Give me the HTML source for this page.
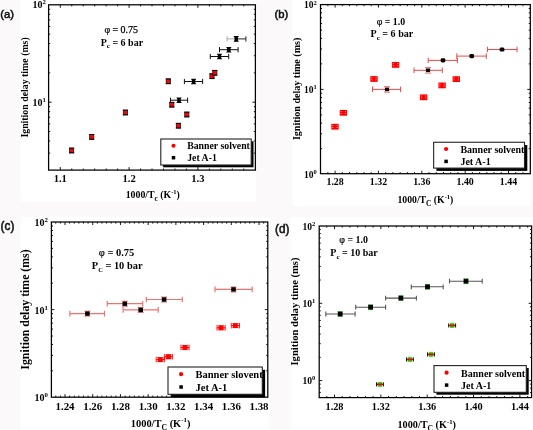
<!DOCTYPE html>
<html><head><meta charset="utf-8"><style>
html,body{margin:0;padding:0;background:#fbf9fa;width:533px;height:430px;overflow:hidden}
svg{display:block;will-change:transform}
</style></head><body>
<svg width="533" height="430" viewBox="0 0 533 430" font-family="'Liberation Serif', serif" fill="#000">
<rect width="533" height="430" fill="#fbf9fa"/>
<rect x="20.3" y="0" width="235.7" height="201.5" fill="#fff"/>
<rect x="292.5" y="0" width="238.7" height="206" fill="#fff"/>
<rect x="20.6" y="216.8" width="249" height="213.2" fill="#fff"/>
<rect x="290.4" y="216.8" width="242.6" height="213.2" fill="#fff"/>
<path d="M48.6 153.13h1.6M255.4 153.13h-1.6M48.6 140.96h1.6M255.4 140.96h-1.6M48.6 131.52h1.6M255.4 131.52h-1.6M48.6 123.81h1.6M255.4 123.81h-1.6M48.6 117.29h1.6M255.4 117.29h-1.6M48.6 111.64h1.6M255.4 111.64h-1.6M48.6 106.66h1.6M255.4 106.66h-1.6M48.6 102.2h3M255.4 102.2h-3M48.6 72.88h1.6M255.4 72.88h-1.6M48.6 55.73h1.6M255.4 55.73h-1.6M48.6 43.56h1.6M255.4 43.56h-1.6M48.6 34.12h1.6M255.4 34.12h-1.6M48.6 26.41h1.6M255.4 26.41h-1.6M48.6 19.89h1.6M255.4 19.89h-1.6M48.6 14.24h1.6M255.4 14.24h-1.6M48.6 9.26h1.6M255.4 9.26h-1.6M60.3 170.1v-3M60.3 4.8v3M71.77 170.1v-1.6M71.77 4.8v1.6M83.23 170.1v-1.6M83.23 4.8v1.6M94.7 170.1v-1.6M94.7 4.8v1.6M106.17 170.1v-1.6M106.17 4.8v1.6M117.63 170.1v-1.6M117.63 4.8v1.6M129.1 170.1v-3M129.1 4.8v3M140.57 170.1v-1.6M140.57 4.8v1.6M152.03 170.1v-1.6M152.03 4.8v1.6M163.5 170.1v-1.6M163.5 4.8v1.6M174.97 170.1v-1.6M174.97 4.8v1.6M186.43 170.1v-1.6M186.43 4.8v1.6M197.9 170.1v-3M197.9 4.8v3M209.37 170.1v-1.6M209.37 4.8v1.6M220.83 170.1v-1.6M220.83 4.8v1.6M232.3 170.1v-1.6M232.3 4.8v1.6M243.77 170.1v-1.6M243.77 4.8v1.6" stroke="#000" stroke-width="0.9" fill="none"/>
<rect x="48.6" y="4.8" width="206.8" height="165.3" fill="none" stroke="#000" stroke-width="1.25"/>
<text x="60.3" y="181.9" text-anchor="middle" font-size="10.6" font-weight="bold">1.1</text>
<text x="129.1" y="181.9" text-anchor="middle" font-size="10.6" font-weight="bold">1.2</text>
<text x="197.9" y="181.9" text-anchor="middle" font-size="10.6" font-weight="bold">1.3</text>
<text x="32.4" y="8.3" font-size="10.0" font-weight="bold">10<tspan font-size="6.8" dy="-4">2</tspan></text>
<text x="32.4" y="105.7" font-size="10.0" font-weight="bold">10<tspan font-size="6.8" dy="-4">1</tspan></text>
<text transform="translate(27.7 87.45) rotate(-90)" text-anchor="middle" font-size="9.85" font-weight="bold">Ignition delay time (ms)</text>
<text x="125.7" y="198.3" font-size="9.8" font-weight="bold">1000/T<tspan font-size="7.35" dy="2.74">c</tspan><tspan dy="-2.74"> (K</tspan><tspan font-size="6.47" dy="-4.12">-1</tspan><tspan dy="4.12">)</tspan></text>
<text x="104.4" y="33" font-size="9.9" font-weight="normal" stroke="#000" stroke-width="0.25"><tspan font-weight="normal" stroke="#000" stroke-width="0.2">φ</tspan> = 0.75</text>
<text x="100.7" y="45.6" font-size="10.0" font-weight="bold">P<tspan font-size="7" dy="2.6">c</tspan><tspan dy="-2.6"> = 6 bar</tspan></text>
<rect x="163.1" y="141.3" width="90.4" height="26" fill="#000"/>
<rect x="160.8" y="139" width="90.4" height="26" fill="#fff" stroke="#222" stroke-width="1.1"/>
<circle cx="173.5" cy="145.75" r="2.1" fill="#f00"/>
<rect x="171.75" y="155.95" width="3.5" height="3.5" fill="#000"/>
<text x="187.2" y="149.1" font-size="9.8" font-weight="bold">Banner solvent</text>
<text x="187.2" y="161.2" font-size="9.8" font-weight="bold">Jet A-1</text>
<text transform="translate(0.3 17.6) scale(0.98 1)" font-family="'Liberation Sans', sans-serif" font-size="11.5" fill="#111" stroke="#111" stroke-width="0.55">(a)</text>
<path d="M320.5 148.67h1.6M530.3 148.67h-1.6M320.5 133.74h1.6M530.3 133.74h-1.6M320.5 123.15h1.6M530.3 123.15h-1.6M320.5 114.93h1.6M530.3 114.93h-1.6M320.5 108.21h1.6M530.3 108.21h-1.6M320.5 102.54h1.6M530.3 102.54h-1.6M320.5 97.62h1.6M530.3 97.62h-1.6M320.5 93.28h1.6M530.3 93.28h-1.6M320.5 89.4h3M530.3 89.4h-3M320.5 63.87h1.6M530.3 63.87h-1.6M320.5 48.94h1.6M530.3 48.94h-1.6M320.5 38.35h1.6M530.3 38.35h-1.6M320.5 30.13h1.6M530.3 30.13h-1.6M320.5 23.41h1.6M530.3 23.41h-1.6M320.5 17.74h1.6M530.3 17.74h-1.6M320.5 12.82h1.6M530.3 12.82h-1.6M320.5 8.48h1.6M530.3 8.48h-1.6M327.88 173.7v-1.6M327.88 4.6v1.6M335.1 173.7v-3M335.1 4.6v3M342.32 173.7v-1.6M342.32 4.6v1.6M349.55 173.7v-1.6M349.55 4.6v1.6M356.78 173.7v-1.6M356.78 4.6v1.6M364 173.7v-1.6M364 4.6v1.6M371.23 173.7v-1.6M371.23 4.6v1.6M378.45 173.7v-3M378.45 4.6v3M385.68 173.7v-1.6M385.68 4.6v1.6M392.9 173.7v-1.6M392.9 4.6v1.6M400.13 173.7v-1.6M400.13 4.6v1.6M407.35 173.7v-1.6M407.35 4.6v1.6M414.57 173.7v-1.6M414.57 4.6v1.6M421.8 173.7v-3M421.8 4.6v3M429.03 173.7v-1.6M429.03 4.6v1.6M436.25 173.7v-1.6M436.25 4.6v1.6M443.48 173.7v-1.6M443.48 4.6v1.6M450.7 173.7v-1.6M450.7 4.6v1.6M457.92 173.7v-1.6M457.92 4.6v1.6M465.15 173.7v-3M465.15 4.6v3M472.38 173.7v-1.6M472.38 4.6v1.6M479.6 173.7v-1.6M479.6 4.6v1.6M486.82 173.7v-1.6M486.82 4.6v1.6M494.05 173.7v-1.6M494.05 4.6v1.6M501.27 173.7v-1.6M501.27 4.6v1.6M508.5 173.7v-3M508.5 4.6v3M515.73 173.7v-1.6M515.73 4.6v1.6M522.95 173.7v-1.6M522.95 4.6v1.6" stroke="#000" stroke-width="0.9" fill="none"/>
<rect x="320.5" y="4.6" width="209.8" height="169.1" fill="none" stroke="#000" stroke-width="1.25"/>
<text x="335.1" y="185.3" text-anchor="middle" font-size="9.9" font-weight="bold">1.28</text>
<text x="378.45" y="185.3" text-anchor="middle" font-size="9.9" font-weight="bold">1.32</text>
<text x="421.8" y="185.3" text-anchor="middle" font-size="9.9" font-weight="bold">1.36</text>
<text x="465.15" y="185.3" text-anchor="middle" font-size="9.9" font-weight="bold">1.40</text>
<text x="508.5" y="185.3" text-anchor="middle" font-size="9.9" font-weight="bold">1.44</text>
<text x="303.9" y="8.4" font-size="9.5" font-weight="bold">10<tspan font-size="6.46" dy="-3.8">2</tspan></text>
<text x="303.9" y="93.2" font-size="9.5" font-weight="bold">10<tspan font-size="6.46" dy="-3.8">1</tspan></text>
<text x="303.9" y="178" font-size="9.5" font-weight="bold">10<tspan font-size="6.46" dy="-3.8">0</tspan></text>
<text transform="translate(299.6 88.9) rotate(-90)" text-anchor="middle" font-size="10.05" font-weight="bold">Ignition delay time (ms)</text>
<text x="397.4" y="203.1" font-size="9.75" font-weight="bold">1000/T<tspan font-size="7.31" dy="2.73">C</tspan><tspan dy="-2.73"> (K</tspan><tspan font-size="6.44" dy="-4.09">-1</tspan><tspan dy="4.09">)</tspan></text>
<text x="376.7" y="24.7" font-size="9.8" font-weight="bold"><tspan font-weight="normal" stroke="#000" stroke-width="0.2">φ</tspan> = 1.0</text>
<text x="370.5" y="37.1" font-size="10.1" font-weight="bold">P<tspan font-size="7.07" dy="2.63">c</tspan><tspan dy="-2.63"> = 6 bar</tspan></text>
<rect x="436.45" y="145.05" width="90.85" height="25.85" fill="#000"/>
<rect x="433.65" y="142.25" width="90.85" height="25.85" fill="#fff" stroke="#222" stroke-width="1.1"/>
<circle cx="446.1" cy="149" r="2.1" fill="#f00"/>
<rect x="444.35" y="159.65" width="3.5" height="3.5" fill="#000"/>
<text x="460.4" y="152.8" font-size="10.0" font-weight="bold">Banner solvent</text>
<text x="460.4" y="164.6" font-size="10.0" font-weight="bold">Jet A-1</text>
<text transform="translate(274.6 17.7) scale(0.98 1)" font-family="'Liberation Sans', sans-serif" font-size="11.5" fill="#111" stroke="#111" stroke-width="0.55">(b)</text>
<path d="M51.4 370.83h1.6M267.8 370.83h-1.6M51.4 355.4h1.6M267.8 355.4h-1.6M51.4 344.46h1.6M267.8 344.46h-1.6M51.4 335.97h1.6M267.8 335.97h-1.6M51.4 329.03h1.6M267.8 329.03h-1.6M51.4 323.17h1.6M267.8 323.17h-1.6M51.4 318.09h1.6M267.8 318.09h-1.6M51.4 313.61h1.6M267.8 313.61h-1.6M51.4 309.6h3M267.8 309.6h-3M51.4 283.23h1.6M267.8 283.23h-1.6M51.4 267.8h1.6M267.8 267.8h-1.6M51.4 256.86h1.6M267.8 256.86h-1.6M51.4 248.37h1.6M267.8 248.37h-1.6M51.4 241.43h1.6M267.8 241.43h-1.6M51.4 235.57h1.6M267.8 235.57h-1.6M51.4 230.49h1.6M267.8 230.49h-1.6M51.4 226.01h1.6M267.8 226.01h-1.6M55.76 397.2v-1.6M55.76 222v1.6M60.38 397.2v-1.6M60.38 222v1.6M65 397.2v-3M65 222v3M69.62 397.2v-1.6M69.62 222v1.6M74.24 397.2v-1.6M74.24 222v1.6M78.86 397.2v-1.6M78.86 222v1.6M83.48 397.2v-1.6M83.48 222v1.6M88.1 397.2v-1.6M88.1 222v1.6M92.72 397.2v-3M92.72 222v3M97.34 397.2v-1.6M97.34 222v1.6M101.96 397.2v-1.6M101.96 222v1.6M106.58 397.2v-1.6M106.58 222v1.6M111.2 397.2v-1.6M111.2 222v1.6M115.82 397.2v-1.6M115.82 222v1.6M120.44 397.2v-3M120.44 222v3M125.06 397.2v-1.6M125.06 222v1.6M129.68 397.2v-1.6M129.68 222v1.6M134.3 397.2v-1.6M134.3 222v1.6M138.92 397.2v-1.6M138.92 222v1.6M143.54 397.2v-1.6M143.54 222v1.6M148.16 397.2v-3M148.16 222v3M152.78 397.2v-1.6M152.78 222v1.6M157.4 397.2v-1.6M157.4 222v1.6M162.02 397.2v-1.6M162.02 222v1.6M166.64 397.2v-1.6M166.64 222v1.6M171.26 397.2v-1.6M171.26 222v1.6M175.88 397.2v-3M175.88 222v3M180.5 397.2v-1.6M180.5 222v1.6M185.12 397.2v-1.6M185.12 222v1.6M189.74 397.2v-1.6M189.74 222v1.6M194.36 397.2v-1.6M194.36 222v1.6M198.98 397.2v-1.6M198.98 222v1.6M203.6 397.2v-3M203.6 222v3M208.22 397.2v-1.6M208.22 222v1.6M212.84 397.2v-1.6M212.84 222v1.6M217.46 397.2v-1.6M217.46 222v1.6M222.08 397.2v-1.6M222.08 222v1.6M226.7 397.2v-1.6M226.7 222v1.6M231.32 397.2v-3M231.32 222v3M235.94 397.2v-1.6M235.94 222v1.6M240.56 397.2v-1.6M240.56 222v1.6M245.18 397.2v-1.6M245.18 222v1.6M249.8 397.2v-1.6M249.8 222v1.6M254.42 397.2v-1.6M254.42 222v1.6M259.04 397.2v-3M259.04 222v3M263.66 397.2v-1.6M263.66 222v1.6" stroke="#000" stroke-width="0.9" fill="none"/>
<rect x="51.4" y="222" width="216.4" height="175.2" fill="none" stroke="#000" stroke-width="1.25"/>
<text x="65" y="409.8" text-anchor="middle" font-size="10.9" font-weight="bold">1.24</text>
<text x="92.72" y="409.8" text-anchor="middle" font-size="10.9" font-weight="bold">1.26</text>
<text x="120.44" y="409.8" text-anchor="middle" font-size="10.9" font-weight="bold">1.28</text>
<text x="148.16" y="409.8" text-anchor="middle" font-size="10.9" font-weight="bold">1.30</text>
<text x="175.88" y="409.8" text-anchor="middle" font-size="10.9" font-weight="bold">1.32</text>
<text x="203.6" y="409.8" text-anchor="middle" font-size="10.9" font-weight="bold">1.34</text>
<text x="231.32" y="409.8" text-anchor="middle" font-size="10.9" font-weight="bold">1.36</text>
<text x="259.04" y="409.8" text-anchor="middle" font-size="10.9" font-weight="bold">1.38</text>
<text x="34.6" y="225.9" font-size="10.0" font-weight="bold">10<tspan font-size="6.8" dy="-4">2</tspan></text>
<text x="34.6" y="313.5" font-size="10.0" font-weight="bold">10<tspan font-size="6.8" dy="-4">1</tspan></text>
<text x="34.6" y="401.1" font-size="10.0" font-weight="bold">10<tspan font-size="6.8" dy="-4">0</tspan></text>
<text transform="translate(29.4 309.5) rotate(-90)" text-anchor="middle" font-size="11.8" font-weight="bold">Ignition delay time (ms)</text>
<text x="130.8" y="426.7" font-size="10.4" font-weight="bold">1000/T<tspan font-size="7.8" dy="2.91">C</tspan><tspan dy="-2.91"> (K</tspan><tspan font-size="6.86" dy="-4.37">-1</tspan><tspan dy="4.37">)</tspan></text>
<text x="98.7" y="256.4" font-size="10.5" font-weight="bold"><tspan font-weight="normal" stroke="#000" stroke-width="0.2">φ</tspan> = 0.75</text>
<text x="91.8" y="269" font-size="10.4" font-weight="bold">P<tspan font-size="6.45" dy="3.33">C</tspan><tspan dy="-3.33"> = 10 bar</tspan></text>
<rect x="170.8" y="369.8" width="94.3" height="27.3" fill="#000"/>
<rect x="168" y="367" width="94.3" height="27.3" fill="#fff" stroke="#222" stroke-width="1.1"/>
<circle cx="181.1" cy="374.15" r="2.1" fill="#f00"/>
<rect x="179.35" y="385.25" width="3.5" height="3.5" fill="#000"/>
<text x="195.5" y="377.8" font-size="10.5" font-weight="bold">Banner slovent</text>
<text x="195.5" y="390.7" font-size="10.5" font-weight="bold">Jet A-1</text>
<text transform="translate(0.6 229.9) scale(0.98 1)" font-family="'Liberation Sans', sans-serif" font-size="12.0" fill="#111" stroke="#111" stroke-width="0.55">(c)</text>
<path d="M319.2 392.57h1.6M531.6 392.57h-1.6M319.2 388.09h1.6M531.6 388.09h-1.6M319.2 384.14h1.6M531.6 384.14h-1.6M319.2 380.6h3M531.6 380.6h-3M319.2 357.33h1.6M531.6 357.33h-1.6M319.2 343.72h1.6M531.6 343.72h-1.6M319.2 334.06h1.6M531.6 334.06h-1.6M319.2 326.57h1.6M531.6 326.57h-1.6M319.2 320.45h1.6M531.6 320.45h-1.6M319.2 315.27h1.6M531.6 315.27h-1.6M319.2 310.79h1.6M531.6 310.79h-1.6M319.2 306.84h1.6M531.6 306.84h-1.6M319.2 303.3h3M531.6 303.3h-3M319.2 280.03h1.6M531.6 280.03h-1.6M319.2 266.42h1.6M531.6 266.42h-1.6M319.2 256.76h1.6M531.6 256.76h-1.6M319.2 249.27h1.6M531.6 249.27h-1.6M319.2 243.15h1.6M531.6 243.15h-1.6M319.2 237.97h1.6M531.6 237.97h-1.6M319.2 233.49h1.6M531.6 233.49h-1.6M319.2 229.54h1.6M531.6 229.54h-1.6M326.78 397.6v-1.6M326.78 226v1.6M334.5 397.6v-3M334.5 226v3M342.22 397.6v-1.6M342.22 226v1.6M349.95 397.6v-1.6M349.95 226v1.6M357.68 397.6v-1.6M357.68 226v1.6M365.4 397.6v-1.6M365.4 226v1.6M373.13 397.6v-1.6M373.13 226v1.6M380.85 397.6v-3M380.85 226v3M388.57 397.6v-1.6M388.57 226v1.6M396.3 397.6v-1.6M396.3 226v1.6M404.03 397.6v-1.6M404.03 226v1.6M411.75 397.6v-1.6M411.75 226v1.6M419.47 397.6v-1.6M419.47 226v1.6M427.2 397.6v-3M427.2 226v3M434.93 397.6v-1.6M434.93 226v1.6M442.65 397.6v-1.6M442.65 226v1.6M450.38 397.6v-1.6M450.38 226v1.6M458.1 397.6v-1.6M458.1 226v1.6M465.82 397.6v-1.6M465.82 226v1.6M473.55 397.6v-3M473.55 226v3M481.28 397.6v-1.6M481.28 226v1.6M489 397.6v-1.6M489 226v1.6M496.72 397.6v-1.6M496.72 226v1.6M504.45 397.6v-1.6M504.45 226v1.6M512.17 397.6v-1.6M512.17 226v1.6M519.9 397.6v-3M519.9 226v3M527.63 397.6v-1.6M527.63 226v1.6" stroke="#000" stroke-width="0.9" fill="none"/>
<rect x="319.2" y="226" width="212.4" height="171.6" fill="none" stroke="#000" stroke-width="1.25"/>
<text x="334.5" y="409.7" text-anchor="middle" font-size="10.3" font-weight="bold">1.28</text>
<text x="380.85" y="409.7" text-anchor="middle" font-size="10.3" font-weight="bold">1.32</text>
<text x="427.2" y="409.7" text-anchor="middle" font-size="10.3" font-weight="bold">1.36</text>
<text x="473.55" y="409.7" text-anchor="middle" font-size="10.3" font-weight="bold">1.40</text>
<text x="519.9" y="409.7" text-anchor="middle" font-size="10.3" font-weight="bold">1.44</text>
<text x="302.5" y="229.7" font-size="9.6" font-weight="bold">10<tspan font-size="6.53" dy="-3.84">2</tspan></text>
<text x="302.5" y="307" font-size="9.6" font-weight="bold">10<tspan font-size="6.53" dy="-3.84">1</tspan></text>
<text x="302.5" y="384.3" font-size="9.6" font-weight="bold">10<tspan font-size="6.53" dy="-3.84">0</tspan></text>
<text transform="translate(298 311.5) rotate(-90)" text-anchor="middle" font-size="10.6" font-weight="bold">Ignition delay time (ms)</text>
<text x="397.5" y="427.8" font-size="10.2" font-weight="bold">1000/T<tspan font-size="7.65" dy="2.86">C</tspan><tspan dy="-2.86"> (K</tspan><tspan font-size="6.73" dy="-4.28">-1</tspan><tspan dy="4.28">)</tspan></text>
<text x="339.3" y="242.8" font-size="9.9" font-weight="bold"><tspan font-weight="normal" stroke="#000" stroke-width="0.2">φ</tspan> = 1.0</text>
<text x="330.3" y="256.4" font-size="10.0" font-weight="bold">P<tspan font-size="7" dy="2.6">c</tspan><tspan dy="-2.6"> = 10 bar</tspan></text>
<rect x="436.4" y="368" width="92.3" height="26.7" fill="#000"/>
<rect x="434" y="365.6" width="92.3" height="26.7" fill="#fff" stroke="#222" stroke-width="1.1"/>
<circle cx="446.6" cy="372.7" r="2.1" fill="#f00"/>
<rect x="444.85" y="383.35" width="3.5" height="3.5" fill="#000"/>
<text x="461.1" y="376.5" font-size="10.0" font-weight="bold">Banner solvent</text>
<text x="461.1" y="388.6" font-size="10.0" font-weight="bold">Jet A-1</text>
<text transform="translate(275 232.6) scale(0.98 1)" font-family="'Liberation Sans', sans-serif" font-size="12.0" fill="#111" stroke="#111" stroke-width="0.55">(d)</text>
<rect x="69.5" y="148.2" width="4.2" height="4.6" fill="#f00" stroke="#1a1a1a" stroke-width="0.8"/><path d="M69 148.1h5.2M69 152.9h5.2" stroke="#000" stroke-width="0.9"/>
<rect x="89.6" y="134.6" width="4.2" height="4.6" fill="#f00" stroke="#1a1a1a" stroke-width="0.8"/><path d="M89.1 134.5h5.2M89.1 139.3h5.2" stroke="#000" stroke-width="0.9"/>
<rect x="123.3" y="110.2" width="4.2" height="4.6" fill="#f00" stroke="#1a1a1a" stroke-width="0.8"/><path d="M122.8 110.1h5.2M122.8 114.9h5.2" stroke="#000" stroke-width="0.9"/>
<rect x="166.2" y="79" width="4.2" height="4.6" fill="#f00" stroke="#1a1a1a" stroke-width="0.8"/><path d="M165.7 78.9h5.2M165.7 83.7h5.2" stroke="#000" stroke-width="0.9"/>
<rect x="169.7" y="102.4" width="4.2" height="4.6" fill="#f00" stroke="#1a1a1a" stroke-width="0.8"/><path d="M169.2 102.3h5.2M169.2 107.1h5.2" stroke="#000" stroke-width="0.9"/>
<rect x="176.3" y="123.4" width="4.2" height="4.6" fill="#f00" stroke="#1a1a1a" stroke-width="0.8"/><path d="M175.8 123.3h5.2M175.8 128.1h5.2" stroke="#000" stroke-width="0.9"/>
<rect x="184.7" y="112.2" width="4.2" height="4.6" fill="#f00" stroke="#1a1a1a" stroke-width="0.8"/><path d="M184.2 112.1h5.2M184.2 116.9h5.2" stroke="#000" stroke-width="0.9"/>
<rect x="209.9" y="73.9" width="4.2" height="4.6" fill="#f00" stroke="#1a1a1a" stroke-width="0.8"/><path d="M209.4 73.8h5.2M209.4 78.6h5.2" stroke="#000" stroke-width="0.9"/>
<rect x="212.7" y="70.5" width="4.2" height="4.6" fill="#f00" stroke="#1a1a1a" stroke-width="0.8"/><path d="M212.2 70.4h5.2M212.2 75.2h5.2" stroke="#000" stroke-width="0.9"/>
<path d="M170.5 100.2H187.6M170.5 97.6v5.2M187.6 97.6v5.2" stroke="#111" stroke-width="1.0" fill="none"/><path d="M176.25 97.4H181.75L180.7 98.9V101.5L181.75 103H176.25L177.3 101.5V98.9Z" fill="#000"/>
<path d="M184.4 81.5H202.6M184.4 78.9v5.2M202.6 78.9v5.2" stroke="#111" stroke-width="1.0" fill="none"/><path d="M190.85 78.7H196.35L195.3 80.2V82.8L196.35 84.3H190.85L191.9 82.8V80.2Z" fill="#000"/>
<path d="M210.3 56.5H228.7M210.3 53.9v5.2M228.7 53.9v5.2" stroke="#111" stroke-width="1.0" fill="none"/><path d="M216.75 53.7H222.25L221.2 55.2V57.8L222.25 59.3H216.75L217.8 57.8V55.2Z" fill="#000"/>
<path d="M219.5 49.7H238.1M219.5 47.1v5.2M238.1 47.1v5.2" stroke="#111" stroke-width="1.0" fill="none"/><path d="M226.05 46.9H231.55L230.5 48.4V51L231.55 52.5H226.05L227.1 51V48.4Z" fill="#000"/>
<path d="M236.2 38.9H245.9M236.2 36.3v5.2M245.9 36.3v5.2" stroke="#222" stroke-width="1.0" fill="none"/>
<path d="M227 38.9H236.2M227 36.3v5.2M236.2 36.3v5.2" stroke="#aaa" stroke-width="1.0" fill="none"/><path d="M233.45 36.1H238.95L237.9 37.6V40.2L238.95 41.7H233.45L234.5 40.2V37.6Z" fill="#000"/>
<rect x="331.3" y="123.8" width="7.4" height="5.8" fill="#f00"/><rect x="332.2" y="124.95" width="1" height="0.9" fill="#ffb8b8"/><rect x="332.2" y="127.05" width="1" height="0.9" fill="#ffb8b8"/><rect x="336.6" y="124.95" width="1" height="0.9" fill="#ffb8b8"/><rect x="336.6" y="127.05" width="1" height="0.9" fill="#ffb8b8"/>
<rect x="339.7" y="109.9" width="7.4" height="5.8" fill="#f00"/><rect x="340.6" y="111.05" width="1" height="0.9" fill="#ffb8b8"/><rect x="340.6" y="113.15" width="1" height="0.9" fill="#ffb8b8"/><rect x="345" y="111.05" width="1" height="0.9" fill="#ffb8b8"/><rect x="345" y="113.15" width="1" height="0.9" fill="#ffb8b8"/>
<rect x="370.3" y="76.1" width="7.4" height="5.8" fill="#f00"/><rect x="371.2" y="77.25" width="1" height="0.9" fill="#ffb8b8"/><rect x="371.2" y="79.35" width="1" height="0.9" fill="#ffb8b8"/><rect x="375.6" y="77.25" width="1" height="0.9" fill="#ffb8b8"/><rect x="375.6" y="79.35" width="1" height="0.9" fill="#ffb8b8"/>
<rect x="391.9" y="62" width="7.4" height="5.8" fill="#f00"/><rect x="392.8" y="63.15" width="1" height="0.9" fill="#ffb8b8"/><rect x="392.8" y="65.25" width="1" height="0.9" fill="#ffb8b8"/><rect x="397.2" y="63.15" width="1" height="0.9" fill="#ffb8b8"/><rect x="397.2" y="65.25" width="1" height="0.9" fill="#ffb8b8"/>
<rect x="419.9" y="94.4" width="7.4" height="5.8" fill="#f00"/><rect x="420.8" y="95.55" width="1" height="0.9" fill="#ffb8b8"/><rect x="420.8" y="97.65" width="1" height="0.9" fill="#ffb8b8"/><rect x="425.2" y="95.55" width="1" height="0.9" fill="#ffb8b8"/><rect x="425.2" y="97.65" width="1" height="0.9" fill="#ffb8b8"/>
<rect x="438.4" y="82.5" width="7.4" height="5.8" fill="#f00"/><rect x="439.3" y="83.65" width="1" height="0.9" fill="#ffb8b8"/><rect x="439.3" y="85.75" width="1" height="0.9" fill="#ffb8b8"/><rect x="443.7" y="83.65" width="1" height="0.9" fill="#ffb8b8"/><rect x="443.7" y="85.75" width="1" height="0.9" fill="#ffb8b8"/>
<rect x="452.6" y="76.2" width="7.4" height="5.8" fill="#f00"/><rect x="453.5" y="77.35" width="1" height="0.9" fill="#ffb8b8"/><rect x="453.5" y="79.45" width="1" height="0.9" fill="#ffb8b8"/><rect x="457.9" y="77.35" width="1" height="0.9" fill="#ffb8b8"/><rect x="457.9" y="79.45" width="1" height="0.9" fill="#ffb8b8"/>
<path d="M372.5 89.4H400.6M372.5 86.6v5.6M400.6 86.6v5.6" stroke="#ee3333" stroke-width="0.9" fill="none"/><path d="M384 86.7h6M384 92.2h6" stroke="#f55" stroke-width="0.9"/><rect x="384.9" y="87.6" width="4.2" height="3.6" fill="#000"/>
<path d="M414 70.3H442.3M414 67.5v5.6M442.3 67.5v5.6" stroke="#ee3333" stroke-width="0.9" fill="none"/><path d="M425 67.6h6M425 73.1h6" stroke="#f55" stroke-width="0.9"/><rect x="425.9" y="68.5" width="4.2" height="3.6" fill="#000"/>
<path d="M428.2 60.4H457.4M428.2 57.6v5.6M457.4 57.6v5.6" stroke="#ee3333" stroke-width="0.9" fill="none"/><rect x="440.65" y="58.3" width="4.7" height="4.2" rx="1.4" fill="#000"/>
<path d="M456.8 56.1H486.3M456.8 53.3v5.6M486.3 53.3v5.6" stroke="#ee3333" stroke-width="0.9" fill="none"/><rect x="469.35" y="54" width="4.7" height="4.2" rx="1.4" fill="#000"/>
<path d="M487.4 49.5H517.1M487.4 46.7v5.6M517.1 46.7v5.6" stroke="#ee3333" stroke-width="0.9" fill="none"/><rect x="499.65" y="47.4" width="4.7" height="4.2" rx="1.4" fill="#000"/>
<path d="M156.2 356.75v5.7M164.4 356.75v5.7" stroke="#f00" stroke-width="0.85" fill="none"/><path d="M156.2 359.6H164.4" stroke="#f00" stroke-width="1.3"/><path d="M157 357.55h6.6M157 361.65h6.6" stroke="#f00" stroke-width="0.7"/><rect x="157.9" y="357.2" width="4.8" height="4.8" fill="#f00"/>
<path d="M164.4 353.85v5.7M172.6 353.85v5.7" stroke="#f00" stroke-width="0.85" fill="none"/><path d="M164.4 356.7H172.6" stroke="#f00" stroke-width="1.3"/><path d="M165.2 354.65h6.6M165.2 358.75h6.6" stroke="#f00" stroke-width="0.7"/><rect x="166.1" y="354.3" width="4.8" height="4.8" fill="#f00"/>
<path d="M180.9 344.65v5.7M189.1 344.65v5.7" stroke="#f00" stroke-width="0.85" fill="none"/><path d="M180.9 347.5H189.1" stroke="#f00" stroke-width="1.3"/><path d="M181.7 345.45h6.6M181.7 349.55h6.6" stroke="#f00" stroke-width="0.7"/><rect x="182.6" y="345.1" width="4.8" height="4.8" fill="#f00"/>
<path d="M217 324.95v5.7M225.2 324.95v5.7" stroke="#f00" stroke-width="0.85" fill="none"/><path d="M217 327.8H225.2" stroke="#f00" stroke-width="1.3"/><path d="M217.8 325.75h6.6M217.8 329.85h6.6" stroke="#f00" stroke-width="0.7"/><rect x="218.7" y="325.4" width="4.8" height="4.8" fill="#f00"/>
<path d="M231.3 322.75v5.7M239.5 322.75v5.7" stroke="#f00" stroke-width="0.85" fill="none"/><path d="M231.3 325.6H239.5" stroke="#f00" stroke-width="1.3"/><path d="M232.1 323.55h6.6M232.1 327.65h6.6" stroke="#f00" stroke-width="0.7"/><rect x="233" y="323.2" width="4.8" height="4.8" fill="#f00"/>
<path d="M69.9 313.6H104.5M69.9 310.8v5.6M104.5 310.8v5.6" stroke="#f27272" stroke-width="1.2" fill="none"/><path d="M84.4 311.1h6M84.4 316.2h6" stroke="#f05050" stroke-width="0.8"/><rect x="85.1" y="311.4" width="4.6" height="4.4" fill="#000"/>
<path d="M107.2 303.7H142.7M107.2 300.9v5.6M142.7 300.9v5.6" stroke="#f27272" stroke-width="1.2" fill="none"/><path d="M121.8 301.2h6M121.8 306.3h6" stroke="#f05050" stroke-width="0.8"/><rect x="122.5" y="301.5" width="4.6" height="4.4" fill="#000"/>
<path d="M123.1 309.9H158.2M123.1 307.1v5.6M158.2 307.1v5.6" stroke="#f27272" stroke-width="1.2" fill="none"/><path d="M137.7 307.4h6M137.7 312.5h6" stroke="#f05050" stroke-width="0.8"/><rect x="138.4" y="307.7" width="4.6" height="4.4" fill="#000"/>
<path d="M146.3 299.5H182.3M146.3 296.7v5.6M182.3 296.7v5.6" stroke="#f27272" stroke-width="1.2" fill="none"/><path d="M161.1 297h6M161.1 302.1h6" stroke="#f05050" stroke-width="0.8"/><rect x="161.8" y="297.3" width="4.6" height="4.4" fill="#000"/>
<path d="M215 289.4H252.2M215 286.6v5.6M252.2 286.6v5.6" stroke="#f27272" stroke-width="1.2" fill="none"/><path d="M230.5 286.9h6M230.5 292h6" stroke="#f05050" stroke-width="0.8"/><rect x="231.2" y="287.2" width="4.6" height="4.4" fill="#000"/>
<path d="M376.5 384.35H383.4M376.5 382.3v4.1M383.4 382.3v4.1" stroke="#111" stroke-width="1.0" fill="none"/><rect x="377.7" y="381.8" width="4.5" height="5.1" fill="#22ee22"/><rect x="377.45" y="383.3" width="5" height="2.1" fill="#f00"/>
<path d="M406.45 359.45H413.35M406.45 357.4v4.1M413.35 357.4v4.1" stroke="#111" stroke-width="1.0" fill="none"/><rect x="407.65" y="356.9" width="4.5" height="5.1" fill="#22ee22"/><rect x="407.4" y="358.4" width="5" height="2.1" fill="#f00"/>
<path d="M427.55 354.4H434.45M427.55 352.35v4.1M434.45 352.35v4.1" stroke="#111" stroke-width="1.0" fill="none"/><rect x="428.75" y="351.85" width="4.5" height="5.1" fill="#22ee22"/><rect x="428.5" y="353.35" width="5" height="2.1" fill="#f00"/>
<path d="M448.7 325.45H455.6M448.7 323.4v4.1M455.6 323.4v4.1" stroke="#111" stroke-width="1.0" fill="none"/><rect x="449.9" y="322.9" width="4.5" height="5.1" fill="#22ee22"/><rect x="449.65" y="324.4" width="5" height="2.1" fill="#f00"/>
<path d="M325.8 314H355.1M325.8 311.6v4.8M355.1 311.6v4.8" stroke="#555" stroke-width="1.1" fill="none"/><path d="M337.7 311.5h5M337.7 316.5h5" stroke="#3e3" stroke-width="0.8"/><rect x="337.8" y="311.6" width="4.8" height="4.8" fill="#000"/>
<path d="M355.7 307.2H385.6M355.7 304.8v4.8M385.6 304.8v4.8" stroke="#555" stroke-width="1.1" fill="none"/><path d="M368.1 304.7h5M368.1 309.7h5" stroke="#3e3" stroke-width="0.8"/><rect x="368.2" y="304.8" width="4.8" height="4.8" fill="#000"/>
<path d="M385.6 298.1H416.4M385.6 295.7v4.8M416.4 295.7v4.8" stroke="#555" stroke-width="1.1" fill="none"/><path d="M398.4 295.6h5M398.4 300.6h5" stroke="#3e3" stroke-width="0.8"/><rect x="398.5" y="295.7" width="4.8" height="4.8" fill="#000"/>
<path d="M411.3 286.8H443.2M411.3 284.4v4.8M443.2 284.4v4.8" stroke="#555" stroke-width="1.1" fill="none"/><path d="M425 284.3h5M425 289.3h5" stroke="#3e3" stroke-width="0.8"/><rect x="425.1" y="284.4" width="4.8" height="4.8" fill="#000"/>
<path d="M449.5 281.2H482.2M449.5 278.8v4.8M482.2 278.8v4.8" stroke="#555" stroke-width="1.1" fill="none"/><path d="M463.5 278.7h5M463.5 283.7h5" stroke="#3e3" stroke-width="0.8"/><rect x="463.6" y="278.8" width="4.8" height="4.8" fill="#000"/>
</svg>
</body></html>
